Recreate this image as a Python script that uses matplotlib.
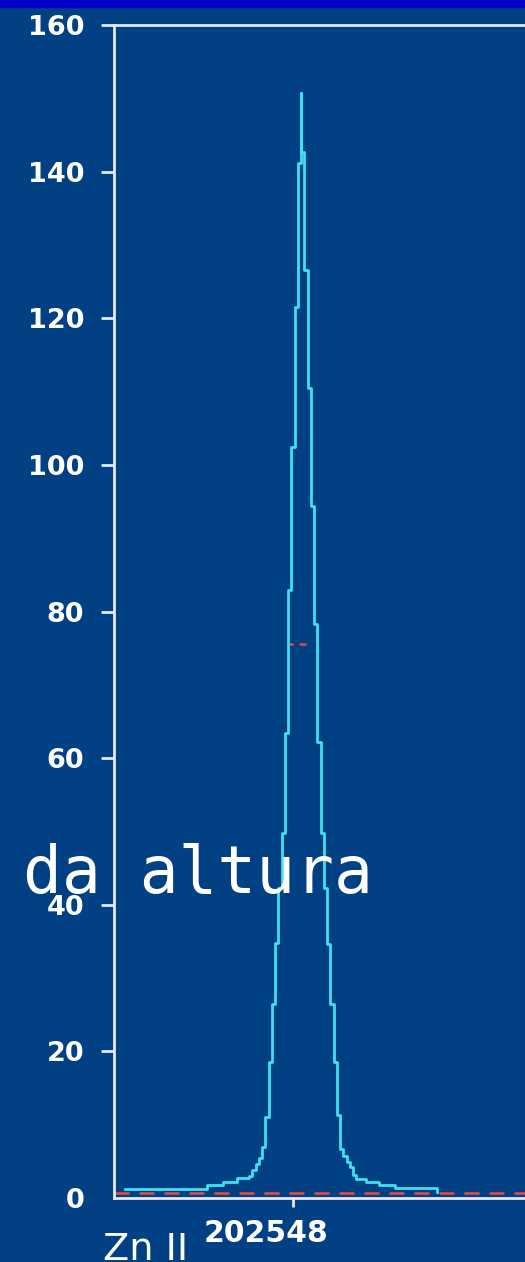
import matplotlib.pyplot as plt
from matplotlib.patches import Rectangle

# Zn II 202.548 nm emission profile (step plot, x = offset in pm from 202548 pm)
seg_start_pm = [-16.8, -8.6, -7.0, -5.6, -4.4, -4.075, -3.75, -3.425, -3.1,
                -2.775, -2.45, -2.125, -1.8, -1.475, -1.15, -0.825, -0.5,
                -0.175, 0.15, 0.475, 0.78, 0.82, 1.125, 1.45, 1.775, 2.1,
                2.425, 2.75, 3.075, 3.4, 3.725, 4.05, 4.375, 4.7, 5.025,
                5.35, 5.675, 6.0, 6.325, 7.3, 8.6, 10.2, 14.4]
seg_level = [1.23, 1.77, 2.18, 2.73, 3.0, 3.8, 4.6, 5.5, 6.96,
             11.1, 18.6, 26.4, 34.8, 42.3, 49.8, 63.4, 82.9,
             102.5, 121.6, 141.2, 150.75, 142.7, 126.6, 110.5, 94.4, 78.3,
             62.2, 49.8, 42.3, 34.7, 26.4, 18.6, 11.3, 6.7, 5.7,
             4.9, 4.2, 3.1, 2.6, 2.2, 1.8, 1.36, 0.8]

baseline_level = 0.72
half_max_level = 75.6
half_max_span = [-0.37, 1.3]

y_ticks = [0, 20, 40, 60, 80, 100, 120, 140, 160]
x_tick_pm = [0]
line_name = "Zn II"
line_pos = "202548"
overlay = "da altura"

bg = '#014082'
cyan = '#40e0f0'
red = '#e8483f'
axis_col = '#e6e8f0'

plt.rcParams['lines.scale_dashes'] = False

W, H = 525, 1262
fig = plt.figure(figsize=(W / 100, H / 100), dpi=100, facecolor=bg)
fig.patches.append(Rectangle((0, 1 - 7 / H), 1, 7 / H, transform=fig.transFigure,
                             color='#0000c8', zorder=0))

left_px, right_px, top_px, bot_px = 114, 700, 25, 1198
ax = fig.add_axes([left_px / W, (H - bot_px) / H, (right_px - left_px) / W,
                   (bot_px - top_px) / H])
ax.set_facecolor(bg)
ax.set_xlim((left_px - 293) * 0.1, (right_px - 293) * 0.1)
ax.set_ylim(0, 160)

ax.plot(seg_start_pm, seg_level, drawstyle='steps-post', color=cyan, lw=2.0,
        zorder=3)
ax.axhline(baseline_level, color=red, lw=1.9, linestyle=(0, (10.8, 7.2)), zorder=2)
ax.plot(half_max_span, [half_max_level, half_max_level], color=red, lw=1.8,
        linestyle=(0, (2.9, 4.3, 5.0, 10)), zorder=2)

for side in ['left', 'top', 'bottom']:
    ax.spines[side].set_color(axis_col)
    ax.spines[side].set_linewidth(2.0)
ax.spines['right'].set_visible(False)

ax.set_yticks(y_ticks)
ax.set_yticklabels([str(v) for v in y_ticks])
ax.tick_params(axis='y', direction='out', length=9.4, width=2.0, color=axis_col,
               pad=12, labelcolor='white', labelsize=19.5)
for lab in ax.get_yticklabels():
    lab.set_fontweight('bold')
ax.yaxis.get_major_ticks()[0].tick1line.set_visible(False)

ax.set_xticks(x_tick_pm)
ax.set_xticklabels([''])
ax.tick_params(axis='x', direction='out', length=6.5, width=2.0, color=axis_col)

fig.text(265.5 / W, 1 - 1233 / H, line_pos, color='white', fontsize=21.5,
         fontweight='bold', ha='center', va='center')
fig.text(103 / W, 1 - 1260 / H, line_name, color='white', fontsize=27.5,
         family=['Liberation Sans Narrow', 'DejaVu Sans'], ha='left',
         va='baseline')
fig.text(23 / W, 1 - 893 / H, overlay, color='white', fontsize=46.5,
         family='DejaVu Sans Mono', ha='left', va='baseline', zorder=10)

fig.savefig('out.png', dpi=100, facecolor=bg)
